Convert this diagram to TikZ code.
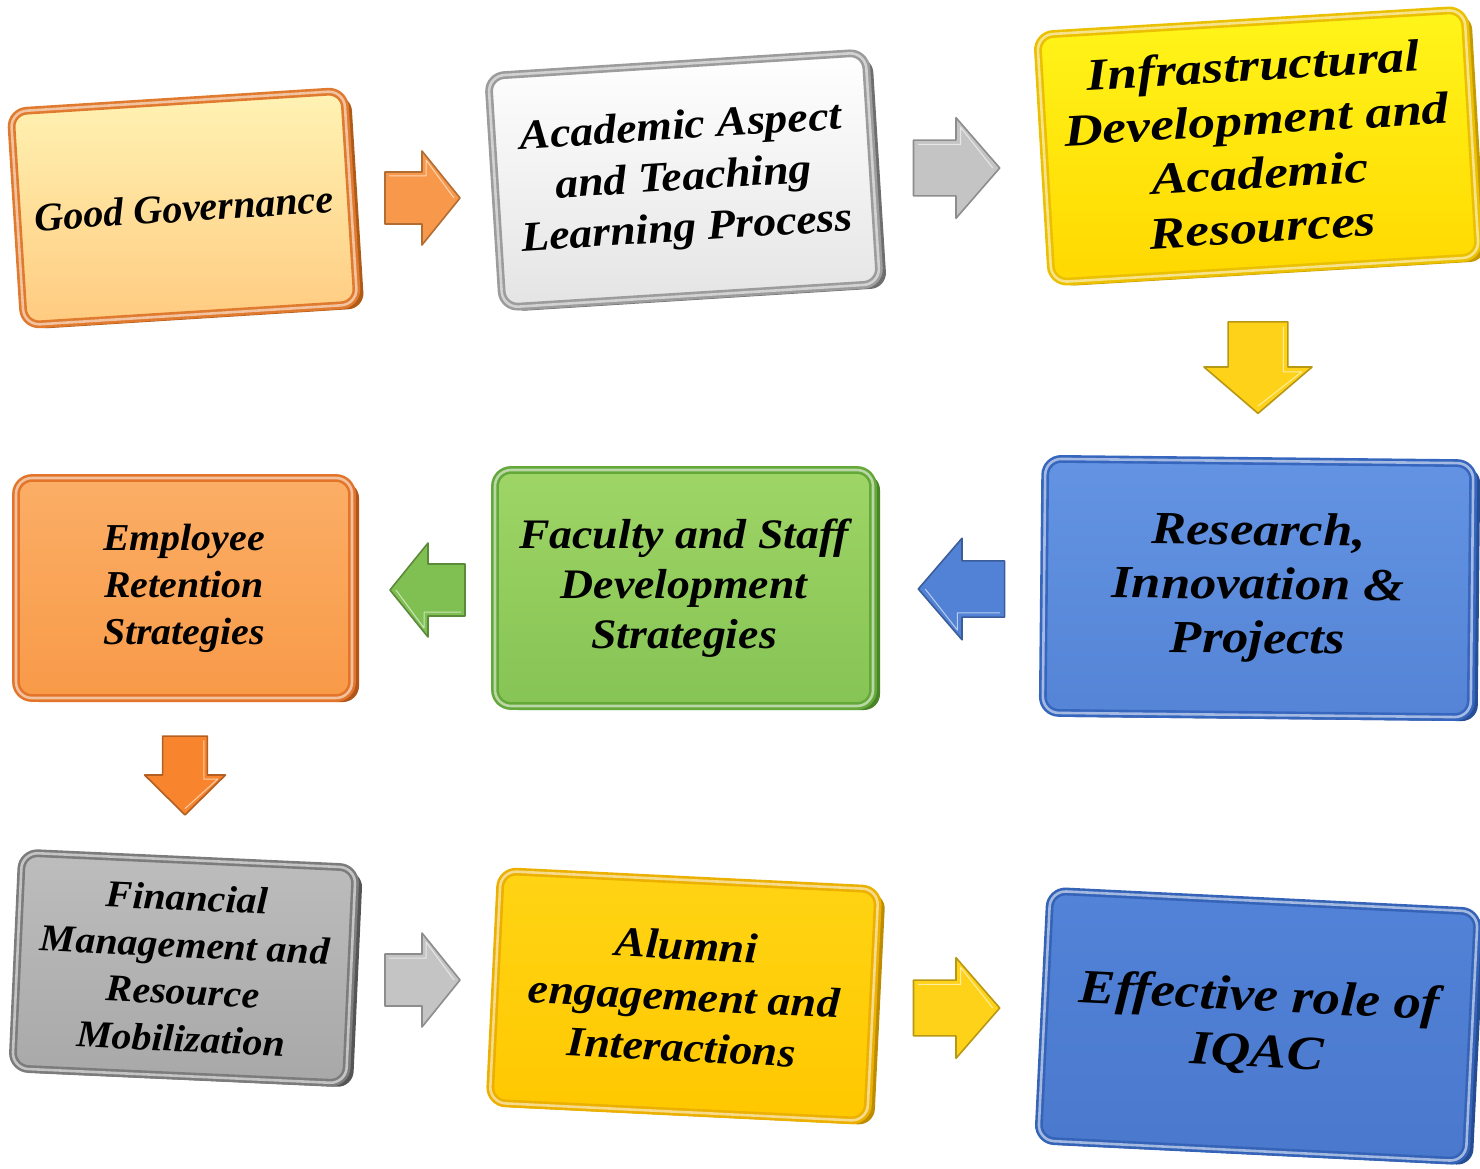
\documentclass[tikz,border=0pt]{standalone}
\usepackage{fontspec}
\setmainfont{Liberation Serif}
\newfontfamily\stA[FakeStretch=1.05]{Liberation Serif}
\newfontfamily\stB[FakeStretch=1.09]{Liberation Serif}
\newfontfamily\stC[FakeStretch=1.14]{Liberation Serif}
\newfontfamily\stD[FakeStretch=1.19]{Liberation Serif}
\usetikzlibrary{shadows}
\definecolor{ggtop}{HTML}{FFF3B4}\definecolor{ggbot}{HTML}{FFCB80}\definecolor{ggbd}{HTML}{E07A2E}\definecolor{ggsh}{HTML}{B05A18}
\definecolor{actop}{HTML}{FFFFFF}\definecolor{acbot}{HTML}{E4E4E4}\definecolor{acbd}{HTML}{9C9C9C}\definecolor{acsh}{HTML}{6E6E6E}
\definecolor{intop}{HTML}{FFF51A}\definecolor{inbot}{HTML}{FFD800}\definecolor{inbd}{HTML}{EBC000}\definecolor{insh}{HTML}{C49A00}
\definecolor{emtop}{HTML}{FBAE66}\definecolor{embot}{HTML}{F89A48}\definecolor{embd}{HTML}{E3752A}\definecolor{emsh}{HTML}{B0561A}
\definecolor{fatop}{HTML}{9ED566}\definecolor{fabot}{HTML}{86C455}\definecolor{fabd}{HTML}{64A83A}\definecolor{fash}{HTML}{4A8428}
\definecolor{retop}{HTML}{6393E2}\definecolor{rebot}{HTML}{5584D6}\definecolor{rebd}{HTML}{3766BE}\definecolor{resh}{HTML}{284E96}
\definecolor{fitop}{HTML}{BDBDBD}\definecolor{fibot}{HTML}{A8A8A8}\definecolor{fibd}{HTML}{7C7C7C}\definecolor{fish}{HTML}{555555}
\definecolor{altop}{HTML}{FFD414}\definecolor{albot}{HTML}{FFC800}\definecolor{albd}{HTML}{EBB000}\definecolor{alsh}{HTML}{BE8C00}
\definecolor{eftop}{HTML}{5283D8}\definecolor{efbot}{HTML}{4A78CC}\definecolor{efbd}{HTML}{3463B8}\definecolor{efsh}{HTML}{264C92}
\definecolor{arOr}{HTML}{F7984A}\definecolor{arGr}{HTML}{C4C4C4}\definecolor{arYe}{HTML}{FFD21A}
\definecolor{arBl}{HTML}{5282D6}\definecolor{arGn}{HTML}{80BF52}\definecolor{arOd}{HTML}{F8842E}
\begin{document}
\begin{tikzpicture}[x=1pt,y=-1pt,
  box/.style n args={4}{rectangle, rounded corners=16pt, top color=#1, bottom color=#2,
    draw=#3, line width=2.6pt, double=#3!45!white, double distance=2.6pt,
    drop shadow={shadow xshift=7pt, shadow yshift=-4pt, fill=#4, opacity=1},
    align=center, inner sep=4pt},
  pics/barrow/.style={code={
    \filldraw[fill=#1, draw=#1!72!black, line width=1.6pt, line join=round]
      (-37,-26) -- (0,-26) -- (0,-47) -- (38,0) -- (0,47) -- (0,26) -- (-37,26) -- cycle;
    \draw[#1!40!white, line width=1pt, line join=round]
      (-33,-22) -- (4,-22) -- (4,-38) -- (32,0);}}
]
\useasboundingbox (0,0) rectangle (1480,1169);

% row 1
\node[box={ggtop}{ggbot}{ggbd}{ggsh}, minimum width=334pt, minimum height=214pt, rotate=3.6,
  font=\bfseries\itshape\fontsize{40}{48}\selectfont] (gg) at (184,208) {Good Governance};
\node[box={actop}{acbot}{acbd}{acsh}, minimum width=378pt, minimum height=232pt, rotate=3.6,
  font=\stB\bfseries\itshape\fontsize{42}{51}\selectfont] (ac) at (684,180) {Academic Aspect\\and Teaching\\Learning Process};
\node[box={intop}{inbot}{inbd}{insh}, minimum width=428pt, minimum height=248pt, rotate=3.4,
  font=\stD\bfseries\itshape\fontsize{45}{54}\selectfont] (in) at (1258,146) {Infrastructural\\Development and\\Academic\\Resources};

% row 2
\node[box={emtop}{embot}{embd}{emsh}, minimum width=336pt, minimum height=220pt,
  font=\stA\bfseries\itshape\fontsize{38}{47}\selectfont] (em) at (184,588) {Employee\\Retention\\Strategies};
\node[box={fatop}{fabot}{fabd}{fash}, minimum width=378pt, minimum height=236pt,
  font=\stB\bfseries\itshape\fontsize{42}{50}\selectfont] (fa) at (684,588) {Faculty and Staff\\Development\\Strategies};
\node[box={retop}{rebot}{rebd}{resh}, minimum width=428pt, minimum height=254pt, rotate=-0.6,
  font=\stC\bfseries\itshape\fontsize{46}{54}\selectfont] (re) at (1258,588) {Research,\\Innovation \&\\Projects};

% row 3
\node[box={fitop}{fibot}{fibd}{fish}, minimum width=334pt, minimum height=216pt, rotate=-2.6,
  font=\stA\bfseries\itshape\fontsize{38}{47}\selectfont] (fi) at (184,968) {Financial\\Management and\\Resource\\Mobilization};
\node[box={altop}{albot}{albd}{alsh}, minimum width=378pt, minimum height=232pt, rotate=-2.8,
  font=\stB\bfseries\itshape\fontsize{42}{51}\selectfont] (al) at (684,996) {Alumni\\engagement and\\Interactions};
\node[box={eftop}{efbot}{efbd}{efsh}, minimum width=428pt, minimum height=250pt, rotate=-2.8,
  font=\stC\bfseries\itshape\fontsize{48}{56}\selectfont] (ef) at (1258,1026) {Effective role of\\IQAC};

% block arrows
\pic at (422,198) {barrow=arOr};
\pic[xscale=1.15, yscale=1.07] at (956,168) {barrow=arGr};
\pic[rotate=-90, xscale=1.22, yscale=1.15] at (1258,367) {barrow=arYe};
\pic[rotate=180, xscale=1.15, yscale=1.08] at (962,589) {barrow=arBl};
\pic[rotate=180, xscale=1.0, yscale=1.0] at (428,590) {barrow=arGn};
\pic[rotate=-90, xscale=1.05, yscale=0.86] at (185,775) {barrow=arOd};
\pic at (422,980) {barrow=arGr};
\pic[xscale=1.15, yscale=1.07] at (956,1008) {barrow=arYe};
\end{tikzpicture}
\end{document}
